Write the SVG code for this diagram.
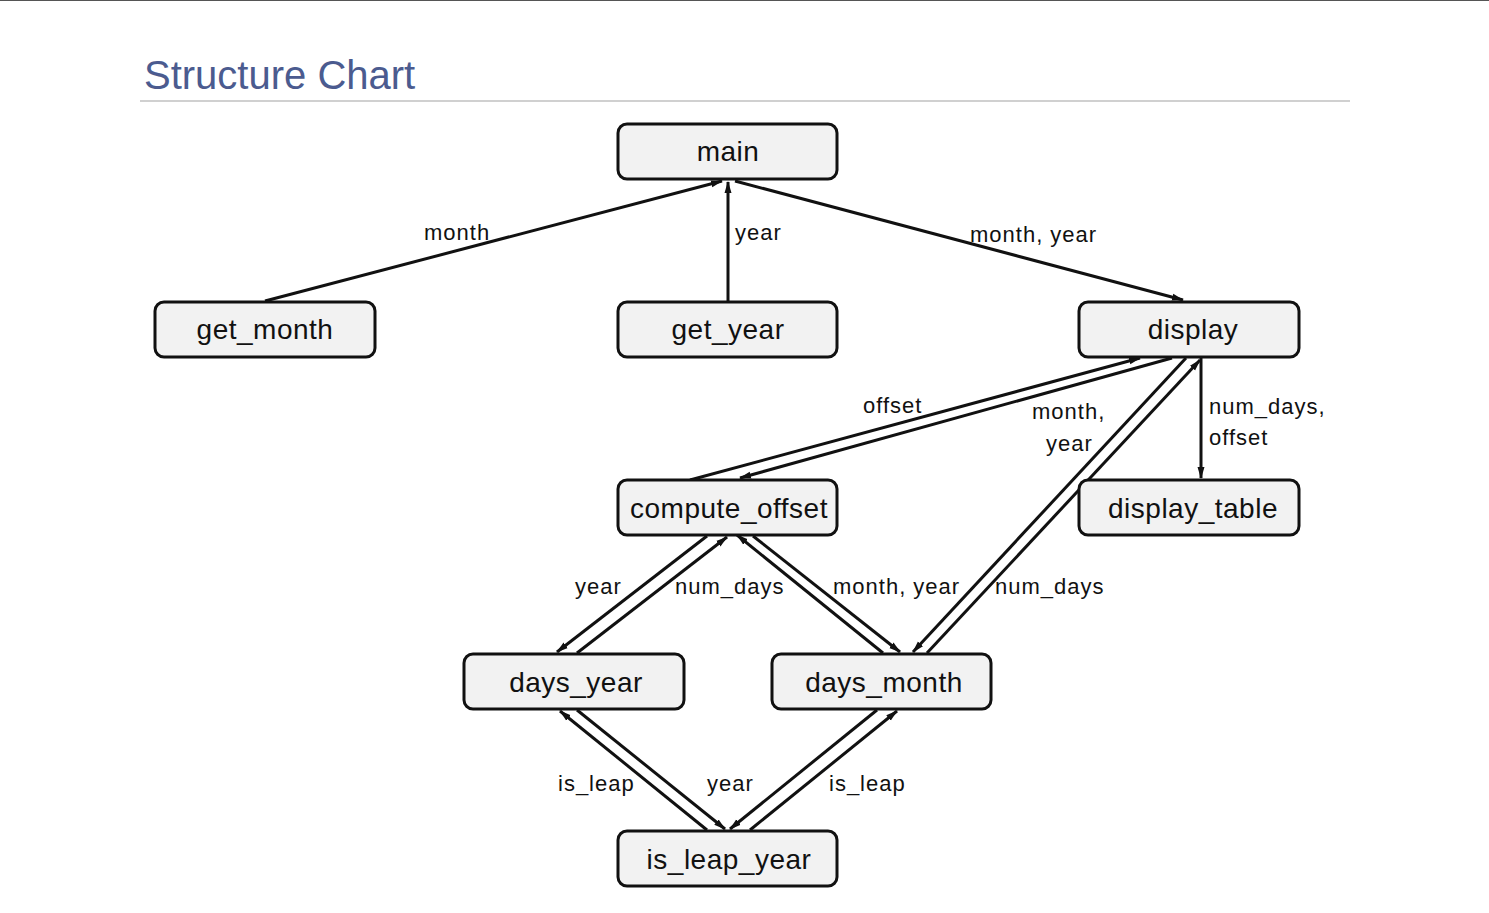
<svg xmlns="http://www.w3.org/2000/svg" width="1489" height="913" viewBox="0 0 1489 913">
<style>
.node rect{fill:#f2f2f2;stroke:#111;stroke-width:3}
.node text{font-family:"Liberation Sans",Arial,sans-serif;font-size:28px;fill:#111;text-anchor:middle;letter-spacing:0.5px}
.lbl{font-family:"Liberation Sans",Arial,sans-serif;font-size:22px;fill:#111;letter-spacing:1px}
.c{stroke:#111;stroke-width:3;fill:none;marker-end:url(#ah)}
</style>
<defs>
<marker id="ah" markerUnits="userSpaceOnUse" markerWidth="12" markerHeight="8" refX="11" refY="4" orient="auto">
<path d="M0,0.5 L12,4 L0,7.5 z" fill="#111"/>
</marker>
</defs>
<rect width="1489" height="913" fill="#fff"/>
<line x1="0" y1="0.5" x2="1489" y2="0.5" stroke="#555" stroke-width="1"/>
<text x="144" y="89" font-family="'Liberation Sans',Arial,sans-serif" font-size="40" fill="#4b5b8f">Structure Chart</text>
<line x1="140" y1="101" x2="1350" y2="101" stroke="#d0d0d0" stroke-width="2"/>
<g id="connectors">
<path class="c" d="M265,301 L722,181"/>
<path class="c" d="M728,301 L728,182"/>
<path class="c" d="M735,181 L1183,300"/>
<path class="c" d="M690,480 L1140,358"/>
<path class="c" d="M1172,358 L740,478"/>
<path class="c" d="M1186,358 L913,652"/>
<path class="c" d="M927,653 L1200,360"/>
<path class="c" d="M1201,358 L1201,478"/>
<path class="c" d="M707,536 L557,652"/>
<path class="c" d="M577,653 L727,537"/>
<path class="c" d="M883,653 L737,535"/>
<path class="c" d="M753,536 L900,652"/>
<path class="c" d="M707,830 L560,711"/>
<path class="c" d="M577,710 L725,829"/>
<path class="c" d="M877,710 L730,829"/>
<path class="c" d="M750,830 L897,711"/>
</g>
<g id="labels">
<text class="lbl" x="424" y="240">month</text>
<text class="lbl" x="735" y="240">year</text>
<text class="lbl" x="970" y="242">month, year</text>
<text class="lbl" x="863" y="413">offset</text>
<text class="lbl" x="1032" y="419">month,</text>
<text class="lbl" x="1046" y="451">year</text>
<text class="lbl" x="1209" y="414">num_days,</text>
<text class="lbl" x="1209" y="445">offset</text>
<text class="lbl" x="575" y="594">year</text>
<text class="lbl" x="675" y="594">num_days</text>
<text class="lbl" x="833" y="594">month, year</text>
<text class="lbl" x="995" y="594">num_days</text>
<text class="lbl" x="558" y="791">is_leap</text>
<text class="lbl" x="707" y="791">year</text>
<text class="lbl" x="829" y="791">is_leap</text>
</g>
<g id="main" class="node"><rect x="618" y="124" width="219" height="55" rx="9"/><text x="728" y="161">main</text></g>
<g id="get_month" class="node"><rect x="155" y="302" width="220" height="55" rx="9"/><text x="265" y="339">get_month</text></g>
<g id="get_year" class="node"><rect x="618" y="302" width="219" height="55" rx="9"/><text x="728" y="339">get_year</text></g>
<g id="display" class="node"><rect x="1079" y="302" width="220" height="55" rx="9"/><text x="1193" y="339">display</text></g>
<g id="compute_offset" class="node"><rect x="618" y="480" width="219" height="55" rx="9"/><text x="729" y="518">compute_offset</text></g>
<g id="display_table" class="node"><rect x="1079" y="480" width="220" height="55" rx="9"/><text x="1193" y="518">display_table</text></g>
<g id="days_year" class="node"><rect x="464" y="654" width="220" height="55" rx="9"/><text x="576" y="692">days_year</text></g>
<g id="days_month" class="node"><rect x="772" y="654" width="219" height="55" rx="9"/><text x="884" y="692">days_month</text></g>
<g id="is_leap_year" class="node"><rect x="618" y="831" width="219" height="55" rx="9"/><text x="729" y="869">is_leap_year</text></g>
</svg>
